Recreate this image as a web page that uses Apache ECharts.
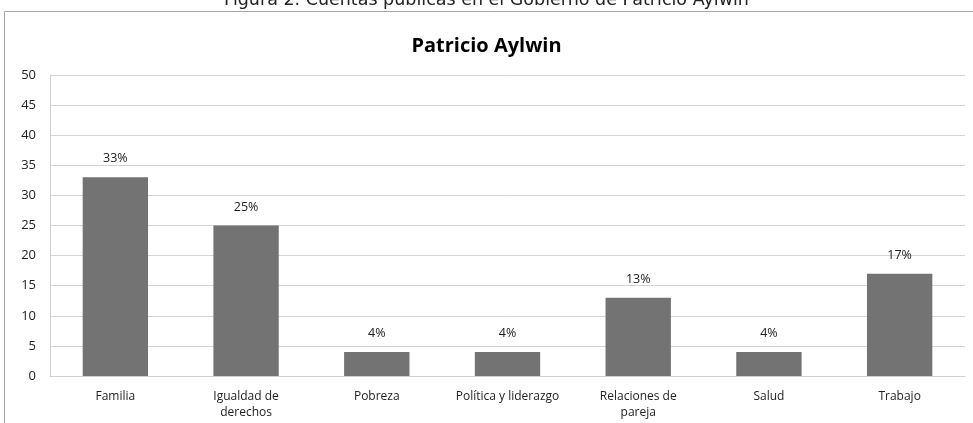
<!DOCTYPE html>
<html><head><meta charset="utf-8">
<script src="https://cdn.jsdelivr.net/npm/echarts@6/dist/echarts.min.js"></script>
<style>html,body{margin:0;padding:0;background:#fff}#c{width:973px;height:423px}</style>
</head><body><div id="c"></div>
<script>
const caption = 'Figura 2. Cuentas públicas en el Gobierno de Patricio Aylwin';
const chartTitle = 'Patricio Aylwin';
const categories = ['Familia', 'Igualdad de\nderechos', 'Pobreza', 'Política y liderazgo', 'Relaciones de\npareja', 'Salud', 'Trabajo'];
const values = [33, 25, 4, 4, 13, 4, 17];
const labels = ['33%', '25%', '4%', '4%', '13%', '4%', '17%'];

const chart = echarts.init(document.getElementById('c'), null, {renderer: 'canvas'});
chart.setOption({
  animation: false,
  backgroundColor: '#fff',
  graphic: [
    {type: 'rect', shape: {x: 4.5, y: 11.5, width: 1000, height: 500}, style: {fill: 'none', stroke: '#a6a6a6', lineWidth: 1}, z: 0},
    {type: 'text', left: 'center', top: -9, style: {text: caption, font: '17.5px "DejaVu Sans"', fill: '#222'}, z: 0}
  ],
  title: {text: chartTitle, left: 'center', top: 31, textStyle: {fontFamily: 'Open Sans', fontWeight: 'bold', fontSize: 20, color: '#000'}},
  grid: {left: 50, right: 8, top: 75, bottom: 47, containLabel: false},
  xAxis: {
    type: 'category', data: categories,
    axisLine: {lineStyle: {color: '#d0d0d0'}},
    axisTick: {show: false},
    axisLabel: {color: '#222', fontFamily: 'Open Sans', fontSize: 12, margin: 13, lineHeight: 16, interval: 0}
  },
  yAxis: {
    type: 'value', min: 0, max: 50, interval: 5,
    axisLine: {show: true, lineStyle: {color: '#d0d0d0'}},
    axisTick: {show: false},
    splitLine: {lineStyle: {color: '#d4d4d4'}},
    axisLabel: {color: '#222', fontFamily: 'Open Sans', fontSize: 13, margin: 14}
  },
  series: [{
    type: 'bar', data: values, barWidth: '50%',
    itemStyle: {color: '#737373'},
    label: {show: true, position: 'top', distance: 12, color: '#222', fontFamily: 'Open Sans', fontSize: 12.5,
      formatter: p => labels[p.dataIndex]}
  }]
});
</script></body></html>
